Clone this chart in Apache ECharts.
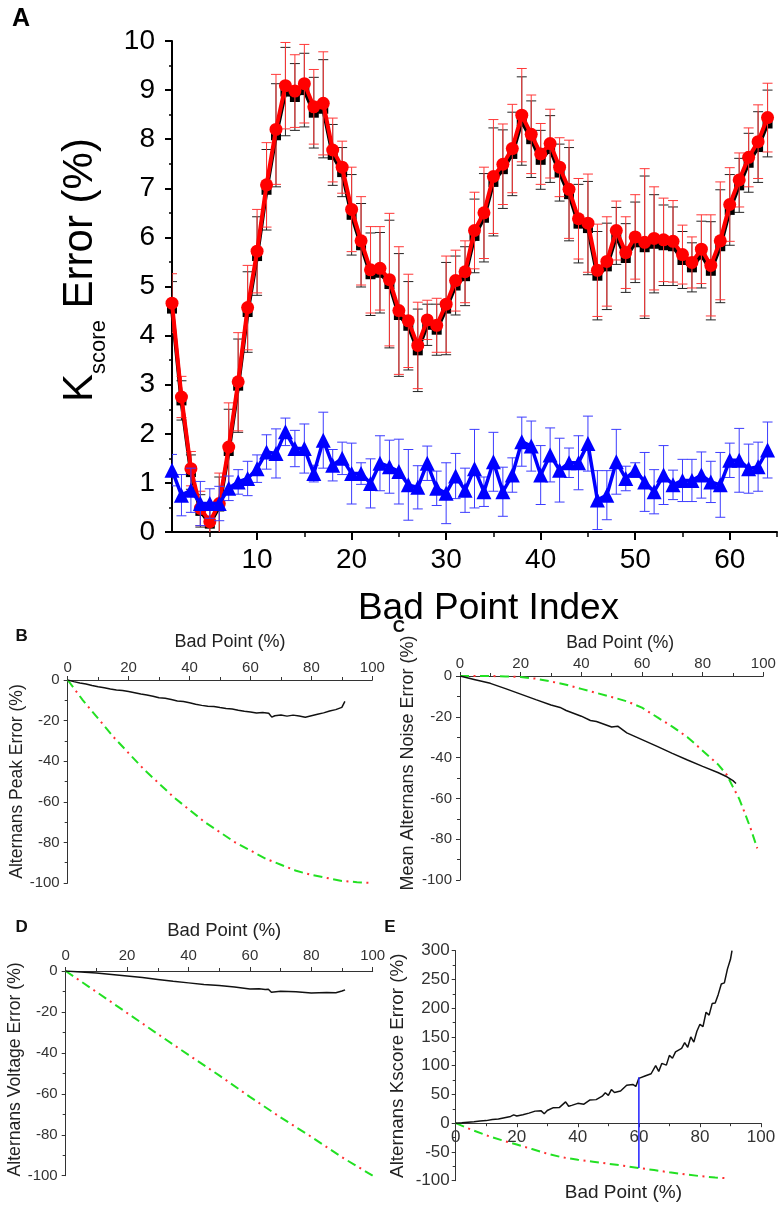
<!DOCTYPE html>
<html>
<head>
<meta charset="utf-8">
<script src="https://cdn.jsdelivr.net/npm/echarts@6/dist/echarts.min.js"></script>
<style>html,body{margin:0;padding:0;background:#fff;}#c{width:779px;height:1207px;}</style>
</head>
<body>
<div id="c"></div>
<script>
// ---------- Panel A data ----------
const badPointIndex = [1,2,3,4,5,6,7,8,9,10,11,12,13,14,15,16,17,18,19,20,21,22,23,24,25,26,27,28,29,30,31,32,33,34,35,36,37,38,39,40,41,42,43,44,45,46,47,48,49,50,51,52,53,54,55,56,57,58,59,60,61,62,63,64];
const redK = [4.66,2.75,1.29,0.48,0.21,0.58,1.73,3.06,4.57,5.72,7.07,8.20,9.09,8.98,9.13,8.66,8.73,7.78,7.43,6.57,5.93,5.34,5.37,5.14,4.51,4.30,3.80,4.32,4.21,4.64,5.12,5.30,6.14,6.50,7.24,7.49,7.81,8.49,8.10,7.70,7.91,7.43,6.98,6.38,6.29,5.33,5.51,6.14,5.69,6.01,5.90,5.98,5.95,5.92,5.65,5.49,5.76,5.43,5.93,6.67,7.17,7.63,7.95,8.44];
const redErr = [0.6,0.42,0.35,0.35,0.3,0.62,0.9,1.0,0.86,0.85,0.86,1.12,0.88,0.74,0.8,0.76,1.05,0.65,0.53,0.86,0.9,0.88,0.85,1.35,1.3,0.95,0.88,0.4,0.55,0.98,0.62,0.63,0.78,0.93,1.16,0.82,0.9,0.95,0.8,0.62,0.7,0.6,1.0,0.82,1.0,0.94,0.91,0.6,0.73,0.86,1.5,1.05,0.85,0.83,0.6,0.52,0.7,1.03,1.2,0.75,0.55,0.6,0.75,0.7];
const blackK = [4.55,2.68,1.22,0.43,0.17,0.52,1.65,2.98,4.48,5.62,6.97,8.08,8.97,8.86,9.0,8.54,8.62,7.68,7.33,6.46,5.84,5.25,5.28,5.05,4.42,4.20,3.70,4.22,4.12,4.55,5.02,5.21,6.03,6.40,7.13,7.39,7.70,8.37,8.0,7.58,7.8,7.32,6.88,6.28,6.19,5.22,5.41,6.03,5.58,5.9,5.8,5.87,5.84,5.82,5.54,5.39,5.65,5.32,5.82,6.56,7.06,7.52,7.84,8.32];
const blackErr = [0.55,0.4,0.35,0.33,0.3,0.6,0.85,0.95,0.82,0.8,0.82,1.05,0.9,0.68,0.75,0.72,1.0,0.62,0.5,0.82,0.85,0.84,0.82,1.3,1.25,0.9,0.84,0.42,0.52,0.94,0.6,0.6,0.75,0.9,1.1,0.8,0.85,0.9,0.78,0.6,0.68,0.58,0.95,0.8,0.95,0.9,0.88,0.58,0.7,0.82,1.45,1.0,0.82,0.8,0.58,0.5,0.68,1.0,1.15,0.72,0.55,0.6,0.72,0.68];
const blueK = [1.26,0.75,0.85,0.58,0.58,0.58,0.89,1.02,1.09,1.29,1.63,1.60,2.04,1.70,1.70,1.19,1.87,1.36,1.50,1.19,1.19,0.99,1.40,1.33,1.23,0.96,0.91,1.40,0.89,0.79,1.14,0.85,1.29,0.82,1.43,0.82,1.16,1.84,1.75,1.16,1.57,1.26,1.41,1.41,1.80,0.65,0.75,1.43,1.09,1.26,1.02,0.82,1.16,0.96,1.05,1.05,1.16,1.02,0.96,1.46,1.46,1.29,1.33,1.67];
const blueErr = [0.32,0.42,0.45,0.45,0.3,0.35,0.25,0.25,0.35,0.28,0.35,0.5,0.28,0.37,0.5,0.17,0.57,0.32,0.33,0.62,0.22,0.5,0.56,0.54,0.66,0.72,0.44,0.35,0.35,0.62,0.46,0.45,0.8,0.3,0.6,0.5,0.35,0.5,0.51,0.6,0.55,0.65,0.3,0.55,0.56,0.6,0.5,0.66,0.25,0.15,0.6,0.45,0.6,0.3,0.43,0.43,0.47,0.42,0.66,0.35,0.65,0.5,0.5,0.57];
const aMajorTicks = [10,20,30,40,50,60];
const aMinorTicks = [5,15,25,35,45,55,65];

// ---------- Panel B data ----------
const bX = [0,2,4,6,8,10,12,14,16,18,20,22,24,26,28,30,32,34,36,38,40,42,44,46,48,50,52,54,56,58,60,62,64,66,67,68,70,72,74,76,78,80,82,84,86,88,90,91];
const bPeak = [0,-0.8,-1.5,-2.0,-2.7,-3.3,-3.8,-4.4,-4.9,-5.2,-5.7,-6.3,-6.9,-7.4,-8.0,-8.7,-9.0,-9.6,-10.3,-10.6,-11.2,-11.9,-12.5,-12.9,-13.1,-13.6,-14.0,-14.3,-14.9,-15.4,-15.8,-16.3,-16.0,-16.4,-18.3,-17.6,-17.2,-17.8,-17.3,-17.7,-18.3,-17.6,-16.9,-16.2,-15.3,-14.6,-13.5,-10.5];
const bTheoryX = [0,5,10,15,20,25,30,35,40,45,50,55,60,65,70,75,80,85,90,95,100];
const bTheory = [0,-10,-19,-28,-36,-44,-51,-58,-64,-70,-75,-80,-84,-88,-91,-94,-96,-97.5,-99,-99.6,-100];

// ---------- Panel C data ----------
const cX = [0,5,10,15,20,25,30,33,35,40,43,45,50,52,55,60,65,70,75,80,85,88,90,91];
const cNoise = [0,-1.8,-3.6,-6.2,-8.9,-11.6,-14.2,-15.4,-16.9,-19.7,-21.8,-22.3,-25.0,-24.6,-27.9,-31.2,-34.5,-37.9,-41.2,-44.3,-47.3,-49.4,-51.3,-52.7];
const cTheoryX = [0,10,15,20,25,30,35,40,45,50,55,60,65,70,75,80,85,88,90,92,94,96,98];
const cTheory = [0,0,-0.2,-0.5,-1.3,-2.7,-4.3,-6.3,-8.3,-10.3,-12.4,-15.5,-20.2,-24.8,-30.0,-36.6,-43.2,-48.5,-54.5,-60,-67.5,-75.5,-84.5];

// ---------- Panel D data ----------
const dX = [0,5,10,15,20,25,30,35,40,45,50,55,60,63,65,66,67,70,75,80,85,88,90,91];
const dVoltage = [0,-0.5,-1.0,-1.7,-2.4,-3.2,-4.1,-5.0,-5.8,-6.6,-7.1,-7.8,-8.8,-8.7,-9.0,-8.9,-10.4,-9.9,-10.1,-10.8,-10.5,-10.6,-9.8,-9.2];
const dTheoryX = [0,10,20,30,40,50,60,70,80,90,100];
const dTheory = [0,-10.2,-20.5,-30.8,-41,-51,-61.5,-71.5,-81,-91,-100];

// ---------- Panel E data ----------
const eX = [0,2,4,6,8,10,12,14,16,18,19,20,22,24,26,28,29,30,32,34,36,37,38,40,42,44,46,48,49,50,51,52,54,56,58,59,60,62,64,65.5,66.5,67.5,69,70,71,72,74,75,76,77,78,79,80,81,82,83,84,85,86,87,88,89,90,90.5];
const eKscore = [0,0.8,1.8,2.5,3.8,4.5,6.5,7.2,9.5,11.8,14.5,12.5,14.8,17.5,21,21.5,16.5,22,27,27.5,37,29.5,31,34.5,33,40.5,41,47,53,48.5,58.5,53.5,56,66,67.5,64,78,82,86,100,90,104,101,118,113,124,130,140,132,150,141,160,172,168,193,188,208,209,224,242,244,268,285,300];
const eTheoryX = [0,5,10,15,20,25,30,35,40,45,50,55,60,65,70,75,80,85,88];
const eTheory = [0,-11,-21,-29.5,-37,-45,-53,-59.5,-63.5,-67,-70.5,-74,-78,-81.5,-85.5,-89,-92,-94.5,-95.5];
const eMarkerX = [60, 60];
const eMarkerY = [-78, 80];

// ---------- build ----------
const FONT = "'Liberation Sans', Arial, Helvetica, sans-serif";
const zip = (xs, ys) => xs.map((x, i) => [x, ys[i]]);
const errData = (vals, errs) => badPointIndex.map((x, i) => [x, vals[i] - errs[i], vals[i] + errs[i]]);

function errRender(color, cap, width) {
  return function (params, api) {
    const x = api.value(0), lo = api.value(1), hi = api.value(2);
    const a = api.coord([x, lo]), b = api.coord([x, hi]);
    const st = { stroke: color, lineWidth: width };
    return { type: 'group', children: [
      { type: 'line', shape: { x1: a[0], y1: a[1], x2: b[0], y2: b[1] }, style: st },
      { type: 'line', shape: { x1: b[0] - cap, y1: b[1], x2: b[0] + cap, y2: b[1] }, style: st },
      { type: 'line', shape: { x1: a[0] - cap, y1: a[1], x2: a[0] + cap, y2: a[1] }, style: st }
    ]};
  };
}

const smallLine = { color: '#333', width: 1 };
function smallX(grid, pos, nameGap, pad, nameSize, labelSize, margin, offset) {
  return {
    gridIndex: grid, type: 'value', min: 0, max: 100, interval: 20, position: pos, offset: offset || 0,
    axisLine: { show: true, onZero: false, lineStyle: smallLine },
    axisTick: { show: true, inside: false, length: 4, lineStyle: smallLine },
    minorTick: { show: true, splitNumber: 2, length: 3, lineStyle: smallLine },
    axisLabel: { fontSize: labelSize, color: '#333', margin: margin, fontFamily: FONT },
    splitLine: { show: false }, minorSplitLine: { show: false },
    name: 'Bad Point (%)', nameLocation: 'middle', nameGap: nameGap,
    nameTextStyle: { fontSize: nameSize, color: '#222', fontFamily: FONT, padding: [0, 0, 0, pad] }
  };
}
function smallY(grid, min, max, interval, name, nameGap, pad, nameSize, labelSize, margin) {
  return {
    gridIndex: grid, type: 'value', min: min, max: max, interval: interval,
    axisLine: { show: true, onZero: false, lineStyle: smallLine },
    axisTick: { show: true, inside: false, length: 4, lineStyle: smallLine },
    minorTick: { show: true, splitNumber: 2, length: 3, lineStyle: smallLine },
    axisLabel: { fontSize: labelSize, color: '#333', margin: margin, fontFamily: FONT },
    splitLine: { show: false }, minorSplitLine: { show: false },
    name: name, nameLocation: 'middle', nameGap: nameGap,
    nameTextStyle: { fontSize: nameSize, color: '#222', fontFamily: FONT, padding: [0, 0, 0, pad] }
  };
}
function blackCurve(xi, yi, xs, ys) {
  return { type: 'line', xAxisIndex: xi, yAxisIndex: yi, data: zip(xs, ys), showSymbol: false, symbol: 'none',
    lineStyle: { color: '#111', width: 1.5 }, z: 5, silent: true };
}
function theoryCurves(xi, yi, xs, ys) {
  const d = zip(xs, ys);
  return [
    { type: 'line', xAxisIndex: xi, yAxisIndex: yi, data: d, showSymbol: false, symbol: 'none',
      lineStyle: { color: '#22e022', width: 2, type: [9, 11] }, z: 3, silent: true },
    { type: 'line', xAxisIndex: xi, yAxisIndex: yi, data: d, showSymbol: false, symbol: 'none',
      lineStyle: { color: '#ff3030', width: 2, type: [2, 18], dashOffset: 6.5 }, z: 3, silent: true }
  ];
}
const g = (l, t, w, h) => ({ left: l, top: t, width: w, height: h, containLabel: false, outerBoundsMode: 'none' });

const option = {
  animation: false,
  backgroundColor: '#fff',
  textStyle: { fontFamily: FONT },
  grid: [
    g(172, 41, 605, 491),
    g(67.7, 680, 304.6, 203),
    g(460, 676, 303.3, 204),
    g(65.7, 971, 307, 204.7),
    g(455.7, 950.7, 305.3, 230)
  ],
  xAxis: [
    { gridIndex: 0, type: 'value', min: 1, max: 65, position: 'bottom',
      axisLine: { show: true, onZero: false, lineStyle: { color: '#000', width: 2 } },
      axisTick: { show: true, inside: false, length: 8, lineStyle: { color: '#000', width: 2 }, customValues: aMajorTicks },
      axisLabel: { customValues: aMajorTicks, fontSize: 28, color: '#000', margin: 14, fontFamily: FONT },
      splitLine: { show: false },
      name: 'Bad Point Index', nameLocation: 'middle', nameGap: 58,
      nameTextStyle: { fontSize: 37, color: '#000', fontFamily: FONT, padding: [0, 0, 0, 28] } },
    { gridIndex: 0, type: 'value', min: 1, max: 65, position: 'bottom',
      axisLine: { show: false, onZero: false },
      axisTick: { show: true, inside: false, length: 5, lineStyle: { color: '#000', width: 1.5 }, customValues: aMinorTicks },
      axisLabel: { show: false }, splitLine: { show: false } },
    smallX(1, 'top', 29, 20, 18, 15, 5),
    smallX(2, 'top', 24, 17, 17.5, 15, 5),
    smallX(3, 'top', 31, 10, 18.5, 15, 8),
    smallX(4, 'bottom', 60, 30, 19, 17, 6, -57.5)
  ],
  yAxis: [
    { gridIndex: 0, type: 'value', min: 0, max: 10, interval: 1,
      axisLine: { show: true, onZero: false, lineStyle: { color: '#000', width: 2 } },
      axisTick: { show: true, inside: false, length: 7, lineStyle: { color: '#000', width: 2 } },
      minorTick: { show: true, splitNumber: 2, length: 3, lineStyle: { color: '#000', width: 1.5 } },
      axisLabel: { fontSize: 28, color: '#000', margin: 17, fontFamily: FONT },
      splitLine: { show: false }, minorSplitLine: { show: false },
      name: '{k|K}{s|score}{k| Error (%)}', nameLocation: 'middle', nameGap: 62,
      nameTextStyle: { color: '#000', fontFamily: FONT, padding: [0, 0, 0, 33],
        rich: {
          k: { fontSize: 42, lineHeight: 42, verticalAlign: 'top', fontFamily: FONT, color: '#000' },
          s: { fontSize: 22, lineHeight: 51, verticalAlign: 'bottom', fontFamily: FONT, color: '#000' }
        } } },
    smallY(1, -100, 0, 20, 'Alternans Peak Error (%)', 36, 0, 17.5, 15, 8),
    smallY(2, -100, 0, 20, 'Mean Alternans Noise Error (%)', 43, 30, 18, 15, 8),
    smallY(3, -100, 0, 20, 'Alternans Voltage Error (%)', 39, 8, 17.6, 15, 8),
    smallY(4, -100, 300, 50, 'Alternans Kscore Error (%)', 48, 0, 18.8, 17, 6)
  ],
  graphic: [
    { type: 'text', x: 21, y: 19, style: { text: 'A', fontSize: 25, fontWeight: 'bold', fontFamily: FONT, fill: '#000', align: 'center', verticalAlign: 'middle' } },
    { type: 'text', x: 21.7, y: 636, style: { text: 'B', fontSize: 17, fontWeight: 'bold', fontFamily: FONT, fill: '#111', align: 'center', verticalAlign: 'middle' } },
    { type: 'text', x: 399, y: 627, style: { text: 'C', fontSize: 17, fontWeight: 'bold', fontFamily: FONT, fill: '#111', align: 'center', verticalAlign: 'middle' } },
    { type: 'text', x: 21.7, y: 927.5, style: { text: 'D', fontSize: 17, fontWeight: 'bold', fontFamily: FONT, fill: '#111', align: 'center', verticalAlign: 'middle' } },
    { type: 'text', x: 390, y: 927.5, style: { text: 'E', fontSize: 17, fontWeight: 'bold', fontFamily: FONT, fill: '#111', align: 'center', verticalAlign: 'middle' } }
  ],
  series: [
    // Panel A
    { type: 'custom', xAxisIndex: 0, yAxisIndex: 0, data: errData(blackK, blackErr), renderItem: errRender('#222', 5, 1), encode: { x: 0, y: [1, 2] }, clip: true, z: 2, silent: true },
    { type: 'line', xAxisIndex: 0, yAxisIndex: 0, data: zip(badPointIndex, blackK), symbol: 'rect', symbolSize: 10,
      itemStyle: { color: '#000' }, lineStyle: { color: '#000', width: 4 }, z: 3, silent: true },
    { type: 'custom', xAxisIndex: 0, yAxisIndex: 0, data: errData(redK, redErr), renderItem: errRender('#ff3838', 5, 1), encode: { x: 0, y: [1, 2] }, clip: true, z: 4, silent: true },
    { type: 'line', xAxisIndex: 0, yAxisIndex: 0, data: zip(badPointIndex, redK), symbol: 'circle', symbolSize: 13,
      itemStyle: { color: '#ff0000' }, lineStyle: { color: '#ff0000', width: 4 }, z: 5, silent: true },
    { type: 'custom', xAxisIndex: 0, yAxisIndex: 0, data: errData(blueK, blueErr), renderItem: errRender('#3c3cff', 5, 1), encode: { x: 0, y: [1, 2] }, clip: true, z: 6, silent: true },
    { type: 'line', xAxisIndex: 0, yAxisIndex: 0, data: zip(badPointIndex, blueK), symbol: 'triangle', symbolSize: 15,
      itemStyle: { color: '#0000ff' }, lineStyle: { color: '#0000ff', width: 3.5 }, z: 7, silent: true },
    // Panel B
    ...theoryCurves(2, 1, bTheoryX, bTheory),
    blackCurve(2, 1, bX, bPeak),
    // Panel C
    ...theoryCurves(3, 2, cTheoryX, cTheory),
    blackCurve(3, 2, cX, cNoise),
    // Panel D
    ...theoryCurves(4, 3, dTheoryX, dTheory),
    blackCurve(4, 3, dX, dVoltage),
    // Panel E
    ...theoryCurves(5, 4, eTheoryX, eTheory),
    blackCurve(5, 4, eX, eKscore),
    { type: 'line', xAxisIndex: 5, yAxisIndex: 4, data: zip(eMarkerX, eMarkerY), showSymbol: false, symbol: 'none',
      lineStyle: { color: '#2020ff', width: 1.5 }, z: 6, silent: true }
  ]
};

const chart = echarts.init(document.getElementById('c'), null, { renderer: 'canvas' });
chart.setOption(option);
</script>
</body>
</html>
